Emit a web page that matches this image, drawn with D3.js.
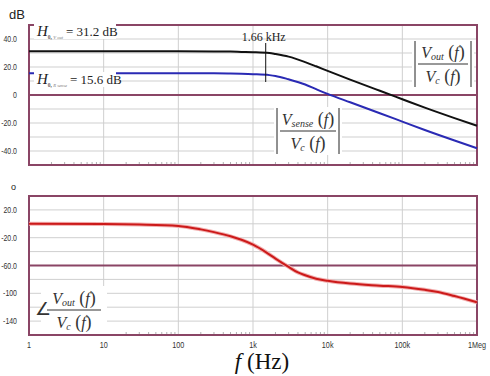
<!DOCTYPE html>
<html>
<head>
<meta charset="utf-8">
<script src="https://cdnjs.cloudflare.com/ajax/libs/d3/7.8.5/d3.min.js"></script>
<style>
  body { margin: 0; background: #fff; }
  svg text { font-family: "Liberation Sans", Arial, sans-serif; }
  svg .serif, svg .serif text { font-family: "Liberation Serif", "Times New Roman", serif; }
</style>
</head>
<body>
<div id="chart"></div>
<script>
const freqs = [1, 10, 100, 300, 500, 700, 1000, 1660, 2000, 3000, 5000, 7000, 10000, 20000, 50000, 100000, 200000, 500000, 1000000];
// |Vout/Vc| in dB
const magOut = [31.2, 31.2, 31.2, 31.1, 31.0, 30.8, 30.6, 30.0, 29.3, 27.4, 23.5, 20.5, 17.2, 11.0, 3.0, -3.0, -9.0, -16.5, -22.0];
// |Vsense/Vc| in dB
const magSense = [15.6, 15.6, 15.6, 15.5, 15.4, 15.2, 14.9, 14.2, 13.6, 11.2, 7.5, 4.2, 0.8, -5.2, -13.0, -19.0, -25.0, -32.5, -38.0];
// phase of Vout/Vc in degrees
const phaseFreqs = [1, 10, 30, 100, 200, 300, 500, 700, 1000, 1500, 2000, 3000, 4000, 5000, 7000, 10000, 20000, 50000, 100000, 200000, 300000, 500000, 1000000];
const phase = [0, -0.3, -1, -3, -8, -12, -18, -23, -30, -41, -50, -62, -70, -74, -79, -82, -86, -89, -91, -95, -98, -104, -113];

const xTicks = [1, 10, 100, 1000, 10000, 100000, 1000000];
const xTickLabels = ['1', '10', '100', '1k', '10k', '100k', '1Meg'];
const magTicks = [40, 20, 0, -20, -40];
const magTickLabels = ['40.0', '20.0', '0', '-20.0', '-40.0'];
const phaseTicks = [20, -20, -60, -100, -140];
const phaseTickLabels = ['20.0', '-20.0', '-60.0', '-100', '-140'];

// corner-frequency marker as drawn on the plot, and its label
const markerFreq = 1480;
const markerLabel = '1.66 kHz';

const W = 490, H = 376;
const frameColor = '#8a4565';
const gridColor = '#cfcfcf';

const svg = d3.select('#chart').append('svg')
  .attr('width', W).attr('height', H);

const x = d3.scaleLog().domain([1, 1e6]).range([29, 477]);
const yMag = d3.scaleLinear().domain([-50, 50]).range([165, 25]);
const yPh = d3.scaleLinear().domain([-160, 40]).range([335, 196]);

// minor log ticks
const minor = [];
for (let d = 1; d < 1e6; d *= 10) for (let k = 2; k <= 9; k++) minor.push(d * k);

const drawPanel = (y, gridStep, ticks, labels, darkVal) => {
  const g = svg.append('g');
  const [lo, hi] = y.domain();
  // horizontal grid
  g.selectAll('.hg')
    .data(d3.range(lo + gridStep, hi, gridStep))
    .join('line')
    .attr('x1', x.range()[0]).attr('x2', x.range()[1])
    .attr('y1', d => y(d)).attr('y2', d => y(d))
    .attr('stroke', gridColor).attr('stroke-width', 1);
  // vertical grid at decades
  g.selectAll('.vg')
    .data(xTicks.slice(1, -1))
    .join('line')
    .attr('x1', d => x(d)).attr('x2', d => x(d))
    .attr('y1', y.range()[1]).attr('y2', y.range()[0])
    .attr('stroke', gridColor).attr('stroke-width', 1);
  // minor ticks along bottom
  g.selectAll('.mt')
    .data(minor)
    .join('line')
    .attr('x1', d => x(d)).attr('x2', d => x(d))
    .attr('y1', y.range()[0]).attr('y2', y.range()[0] - 3)
    .attr('stroke', '#b0b0b0').attr('stroke-width', 1);
  // dark reference line
  g.append('line')
    .attr('x1', x.range()[0]).attr('x2', x.range()[1])
    .attr('y1', y(darkVal)).attr('y2', y(darkVal))
    .attr('stroke', frameColor).attr('stroke-width', 2);
  // frame
  g.append('rect')
    .attr('x', x.range()[0]).attr('y', y.range()[1])
    .attr('width', x.range()[1] - x.range()[0])
    .attr('height', y.range()[0] - y.range()[1])
    .attr('fill', 'none').attr('stroke', frameColor).attr('stroke-width', 2);
  // y tick labels (narrow, like the original)
  g.selectAll('.yl')
    .data(ticks)
    .join('text')
    .attr('transform', d => `translate(17,${y(d) + 3}) scale(0.82,1)`)
    .attr('text-anchor', 'end')
    .attr('font-size', 8.5).attr('fill', '#333')
    .text((d, i) => labels[i]);
  return g;
};

drawPanel(yMag, 10, magTicks, magTickLabels, 0);
drawPanel(yPh, 20, phaseTicks, phaseTickLabels, -60);

// x tick labels under bottom panel
svg.selectAll('.xl')
  .data(xTicks)
  .join('text')
  .attr('transform', d => `translate(${x(d)},348) scale(0.85,1)`)
  .attr('text-anchor', 'middle')
  .attr('font-size', 8.5).attr('fill', '#333')
  .text((d, i) => xTickLabels[i]);

// curves
const lineMag = d3.line().x(d => x(d[0])).y(d => yMag(d[1])).curve(d3.curveMonotoneX);
const linePh = d3.line().x(d => x(d[0])).y(d => yPh(d[1])).curve(d3.curveMonotoneX);

svg.append('path').datum(d3.zip(freqs, magOut))
  .attr('d', lineMag).attr('fill', 'none').attr('stroke', '#111').attr('stroke-width', 2);
svg.append('path').datum(d3.zip(freqs, magSense))
  .attr('d', lineMag).attr('fill', 'none').attr('stroke', '#2a2ab4').attr('stroke-width', 2);
svg.append('path').datum(d3.zip(phaseFreqs, phase))
  .attr('d', linePh).attr('fill', 'none').attr('stroke', '#f2b0b0').attr('stroke-width', 4);
svg.append('path').datum(d3.zip(phaseFreqs, phase))
  .attr('d', linePh).attr('fill', 'none').attr('stroke', '#cc1a1a').attr('stroke-width', 2);

// units
svg.append('text').attr('x', 9).attr('y', 19).attr('font-size', 13).attr('fill', '#222').text('dB');
svg.append('text').attr('x', 11).attr('y', 190).attr('font-size', 9).attr('fill', '#222').text('o');

// H0 labels
const hLabel = (x0, yb, sub1, sub2, val) => {
  svg.append('rect').attr('x', x0 - 3).attr('y', yb - 12).attr('width', 82).attr('height', 15).attr('fill', '#fff');
  const t = svg.append('text').attr('class', 'serif').attr('x', x0).attr('y', yb).attr('fill', '#222');
  t.append('tspan').attr('font-style', 'italic').attr('font-size', 15).text('H');
  t.append('tspan').attr('font-size', 5.5).attr('dy', 3).attr('fill', '#666').attr('font-weight', 'bold').text(sub1);
  t.append('tspan').attr('font-size', 4.5).attr('font-style', 'italic').attr('fill', '#777').text(sub2);
  t.append('tspan').attr('font-size', 13).attr('dy', -3).attr('dx', 3).text('= ' + val);
};
hLabel(37, 36, '0, ', 'V out', '31.2 dB');
hLabel(37, 84, '0, ', 'R sense', '15.6 dB');

// corner marker
svg.append('line').attr('x1', x(markerFreq)).attr('x2', x(markerFreq)).attr('y1', 43).attr('y2', 82)
  .attr('stroke', '#111').attr('stroke-width', 1);
svg.append('text').attr('class', 'serif').attr('x', x(markerFreq) + 20).attr('y', 41)
  .attr('text-anchor', 'end')
  .attr('font-size', 12).attr('fill', '#222').text(markerLabel);

// fraction helper
const fraction = (cx, cy, num, numSub, den, denSub, bars, w) => {
  const g = svg.append('g').attr('class', 'serif');
  g.append('rect').attr('x', cx - w / 2 - 3).attr('y', cy - 24).attr('width', w + 6).attr('height', 48).attr('fill', '#fff');
  const tn = g.append('text').attr('x', cx).attr('y', cy - 6).attr('text-anchor', 'middle').attr('fill', '#333').attr('font-size', 16);
  tn.append('tspan').attr('font-style', 'italic').text(num);
  tn.append('tspan').attr('font-style', 'italic').attr('font-size', 10).attr('dy', 2).text(numSub);
  tn.append('tspan').attr('dy', -2).attr('font-size', 18).text(' (');
  tn.append('tspan').attr('font-style', 'italic').text('f');
  tn.append('tspan').attr('font-size', 18).text(')');
  g.append('line').attr('x1', cx - w / 2 + 3).attr('x2', cx + w / 2 - 3).attr('y1', cy).attr('y2', cy)
    .attr('stroke', '#333').attr('stroke-width', 1);
  const td = g.append('text').attr('x', cx).attr('y', cy + 18).attr('text-anchor', 'middle').attr('fill', '#333').attr('font-size', 16);
  td.append('tspan').attr('font-style', 'italic').text(den);
  td.append('tspan').attr('font-style', 'italic').attr('font-size', 10).attr('dy', 2).text(denSub);
  td.append('tspan').attr('dy', -2).attr('font-size', 18).text(' (');
  td.append('tspan').attr('font-style', 'italic').text('f');
  td.append('tspan').attr('font-size', 18).text(')');
  if (bars) {
    [cx - w / 2, cx + w / 2].forEach(bx => g.append('line')
      .attr('x1', bx).attr('x2', bx).attr('y1', cy - 23).attr('y2', cy + 23)
      .attr('stroke', '#222').attr('stroke-width', 1));
  }
};
fraction(443, 64, 'V', 'out', 'V', 'c', true, 56);
fraction(308, 131, 'V', 'sense', 'V', 'c', true, 62);
fraction(74, 310, 'V', 'out', 'V', 'c', false, 60);
svg.append('text').attr('class', 'serif').attr('x', 35).attr('y', 315).attr('font-size', 18).attr('fill', '#333').text('∠');

// x axis title
const xt = svg.append('text').attr('class', 'serif').attr('x', 262).attr('y', 369)
  .attr('text-anchor', 'middle').attr('font-size', 23).attr('fill', '#111');
xt.append('tspan').attr('font-style', 'italic').text('f');
xt.append('tspan').text(' (Hz)');
</script>
</body>
</html>
